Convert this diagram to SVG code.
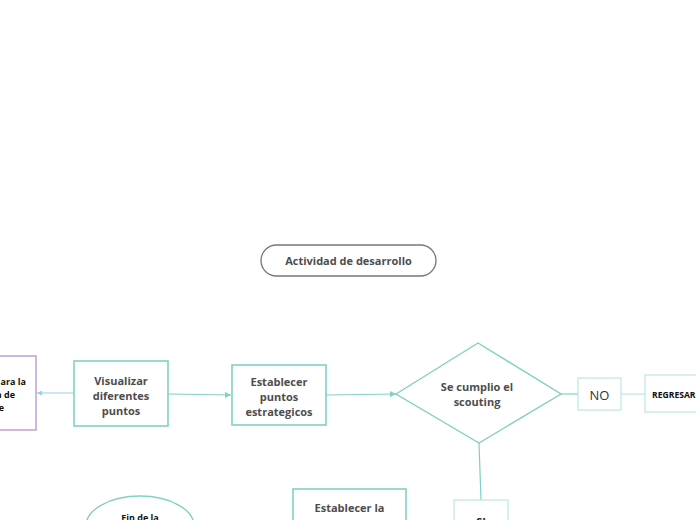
<svg xmlns="http://www.w3.org/2000/svg" width="696" height="520" viewBox="0 0 696 520">
<defs>
<marker id="ah" viewBox="0 0 6 6" refX="6" refY="3" markerWidth="6" markerHeight="6" orient="auto" markerUnits="userSpaceOnUse">
<path d="M0,0 L6,3 L0,6 z" fill="#7fd1c3"/>
</marker>
<marker id="ahb" viewBox="0 0 6 6" refX="6" refY="3" markerWidth="5" markerHeight="5" orient="auto" markerUnits="userSpaceOnUse">
<path d="M0,0 L6,3 L0,6 z" fill="#8fd3ea"/>
</marker>
<style>
.box{fill:#fff;stroke:#80d0c2;stroke-width:1.6}
.lbox{fill:#fff;stroke:#bde6de;stroke-width:1.2}
.t{font-family:"Open Sans","Noto Sans",sans-serif;font-weight:bold;font-size:11px;fill:#4d4d4d;text-anchor:middle}
.k{font-family:"Open Sans","Noto Sans",sans-serif;font-weight:bold;font-size:9px;fill:#111}
.c{stroke:#80d0c2;stroke-width:1.2;fill:none}
</style>
</defs>
<g id="connectors">
<line class="c" x1="74" y1="393" x2="37" y2="393" style="stroke:#8fd3ea" marker-end="url(#ahb)"/>
<line class="c" x1="168" y1="394" x2="231" y2="395" marker-end="url(#ah)"/>
<line class="c" x1="326" y1="395" x2="396" y2="394" marker-end="url(#ah)"/>
<line class="c" x1="561" y1="394" x2="578" y2="394"/>
<line class="c" x1="621" y1="394" x2="645" y2="394" style="stroke:#bde6de"/>
<line class="c" x1="479" y1="443" x2="481" y2="500"/>
</g>
<g id="title">
<rect x="261" y="245" width="175" height="31" rx="15.5" fill="#fff" stroke="#777" stroke-width="1.3"/>
<text class="t" x="348.5" y="265">Actividad de desarrollo</text>
</g>
<g id="purple">
<rect x="-40" y="356" width="76" height="74" fill="#fff" stroke="#c3a6d8" stroke-width="1.6"/>
<text class="k" x="26" y="385" text-anchor="end">ara la</text>
<text class="k" x="15" y="398" text-anchor="end">a de</text>
<text class="k" x="4" y="411" text-anchor="end">e</text>
</g>
<g id="visualizar">
<rect class="box" x="74" y="361" width="94" height="65"/>
<text class="t" x="121" y="385">Visualizar</text>
<text class="t" x="121" y="400">diferentes</text>
<text class="t" x="121" y="415">puntos</text>
</g>
<g id="establecer">
<rect class="box" x="232" y="365" width="94" height="60"/>
<text class="t" x="279" y="386">Establecer</text>
<text class="t" x="279" y="401">puntos</text>
<text class="t" x="279" y="416">estrategicos</text>
</g>
<g id="decision">
<polygon points="396,394 478,343 561,394 479,443" fill="#fff" stroke="#80d0c2" stroke-width="1.4"/>
<text class="t" x="477" y="391">Se cumplio el</text>
<text class="t" x="477" y="406">scouting</text>
</g>
<g id="no">
<rect class="lbox" x="578" y="378" width="43" height="32"/>
<text x="599.5" y="400" font-family="Open Sans,Noto Sans,sans-serif" font-size="13" fill="#333" text-anchor="middle">NO</text>
</g>
<g id="regresar">
<rect class="lbox" x="645" y="375" width="60" height="37"/>
<text class="k" x="652" y="398" style="font-size:8.6px">REGRESAR</text>
</g>
<g id="si">
<rect class="lbox" x="454" y="500" width="54" height="40"/>
<text class="t" x="481" y="526" style="fill:#222">SI</text>
</g>
<g id="establecer-la">
<rect class="box" x="293" y="489" width="113" height="50"/>
<text class="t" x="349.5" y="512">Establecer la</text>
</g>
<g id="fin">
<ellipse cx="140" cy="526" rx="54" ry="30" fill="#fff" stroke="#80d0c2" stroke-width="1.4"/>
<text class="k" x="140" y="521" text-anchor="middle">Fin de la</text>
</g>
</svg>
